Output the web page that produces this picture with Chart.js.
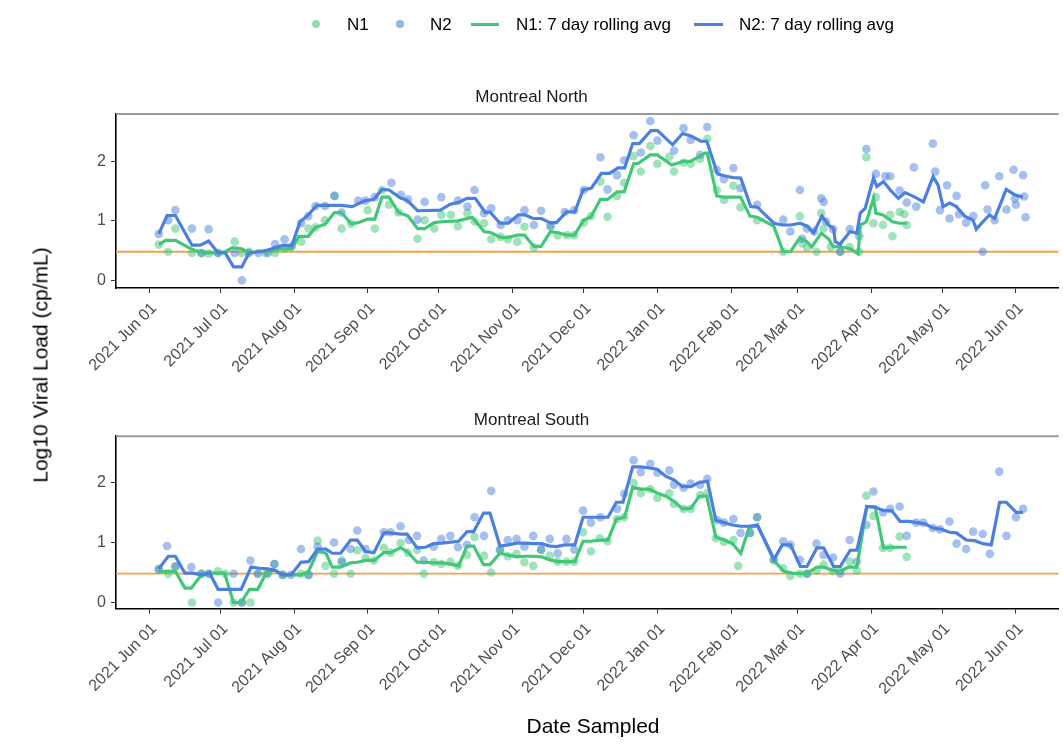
<!DOCTYPE html>
<html>
<head>
<meta charset="utf-8">
<title>Log10 Viral Load - Montreal North / South</title>
<script src="https://cdn.jsdelivr.net/npm/chart.js@4.4.1/dist/chart.umd.min.js"></script>
<style>
    body { margin: 0; background: #fff; font-family: "Liberation Sans", Arial, sans-serif; }
    #wrap { position: relative; width: 1063px; height: 754px; overflow: hidden; }
    #wrap canvas { position: absolute; left: 0; top: 0; }
    .txt { position: absolute; white-space: nowrap; color: #000; line-height: 1; transform: translateY(-50%); }
    .dot { position: absolute; width: 8px; height: 8px; border-radius: 50%; }
    .key { position: absolute; height: 3px; }
</style>
</head>
<body>
<div id="wrap">
    <canvas id="northChart" width="1063" height="754"></canvas>
    <canvas id="southChart" width="1063" height="754"></canvas>

    <!-- legend -->
    <div class="dot" style="left:311.5px; top:19.5px; background:rgba(64,200,120,0.6);"></div>
    <div class="txt" style="left:347px; top:24px; font-size:17px;">N1</div>
    <div class="dot" style="left:395.5px; top:19.5px; background:rgba(75,127,224,0.6);"></div>
    <div class="txt" style="left:430px; top:24px; font-size:17px;">N2</div>
    <div class="key" style="left:471px; top:22.5px; width:28px; background:#40C878;"></div>
    <div class="txt" style="left:516px; top:24px; font-size:17px;">N1: 7 day rolling avg</div>
    <div class="key" style="left:694px; top:22.5px; width:29px; background:#4B7FE0;"></div>
    <div class="txt" style="left:739px; top:24px; font-size:17px;">N2: 7 day rolling avg</div>

    <!-- shared axis titles -->
    <div class="txt" style="left:40px; top:365px; font-size:21px; transform: translate(-50%, -50%) rotate(-90deg);">Log10 Viral Load (cp/mL)</div>
    <div class="txt" style="left:593px; top:725px; font-size:21px; transform: translate(-50%, -50%);">Date Sampled</div>
</div>

<script>
// x values are days since 2021-06-01
const monthTicks = [0, 30, 61, 92, 122, 153, 183, 214, 245, 273, 304, 334, 365];
const monthLabels = ['2021 Jun 01', '2021 Jul 01', '2021 Aug 01', '2021 Sep 01', '2021 Oct 01', '2021 Nov 01',
    '2021 Dec 01', '2022 Jan 01', '2022 Feb 01', '2022 Mar 01', '2022 Apr 01', '2022 May 01', '2022 Jun 01'];
const yTicks = [0, 1, 2];
const threshold = 0.48;

// Montreal North
const northN1 = [[4,0.60],[8,0.48],[11,0.87],[18,0.46],[22,0.46],[25,0.45],[29,0.46],[36,0.65],[39,0.46],[42,0.48],
    [49,0.46],[53,0.46],[57,0.53],[64,0.65],[67,0.87],[70,0.89],[74,1.01],[78,1.42],[81,0.87],[85,0.95],[92,1.18],
    [95,0.87],[98,1.52],[101,1.27],[105,1.14],[113,0.70],[116,1.01],[120,0.87],[123,1.10],[127,1.10],[130,0.91],
    [134,1.13],[137,0.99],[141,0.96],[144,0.69],[148,0.73],[151,0.69],[155,0.65],[158,0.90],[162,0.55],[169,0.93],
    [172,0.76],[176,0.76],[179,0.76],[183,0.97],[186,1.08],[190,1.66],[193,1.07],[197,1.42],[200,1.64],[204,2.09],
    [207,1.83],[211,2.26],[214,1.96],[219,2.08],[221,1.83],[225,1.98],[228,1.96],[232,2.04],[235,2.38],[239,1.52],
    [242,1.35],[246,1.59],[249,1.23],[256,1.01],[267,0.48],[274,1.08],[275,0.62],[277,0.55],[281,0.48],[283,1.13],
    [284,0.87],[287,0.56],[291,0.48],[295,0.56],[299,0.48],[302,2.07],[305,0.96],[306,1.40],[309,0.93],[312,1.10],
    [313,0.74],[316,1.15],[318,1.11],[319,0.93]];
const northN2 = [[4,0.78],[8,1.01],[11,1.18],[18,0.87],[22,0.46],[25,0.86],[29,0.46],[36,0.46],[39,0.0],[42,0.46],
    [46,0.46],[50,0.46],[53,0.61],[57,0.69],[60,0.57],[64,0.96],[67,1.08],[70,1.25],[74,1.25],[78,1.42],[81,1.14],
    [88,1.34],[91,1.34],[95,1.40],[102,1.64],[106,1.44],[109,1.36],[113,1.02],[116,1.32],[123,1.40],[130,1.34],
    [134,1.24],[137,1.52],[141,1.13],[144,1.21],[148,0.93],[151,1.01],[155,1.01],[158,1.18],[162,0.93],[165,1.17],
    [169,0.90],[175,1.15],[179,1.18],[183,1.52],[190,2.07],[193,1.53],[197,1.77],[200,2.02],[204,2.44],[207,2.15],
    [211,2.68],[214,2.35],[221,2.18],[225,2.56],[228,2.36],[232,2.11],[235,2.58],[239,1.86],[242,1.70],[246,1.89],
    [249,1.55],[256,1.27],[267,1.02],[270,0.82],[274,1.52],[275,0.70],[277,0.87],[280,0.82],[283,1.38],[284,1.32],
    [285,0.99],[288,0.86],[291,0.48],[295,0.86],[299,0.74],[302,2.21],[306,1.79],[310,1.75],[312,1.75],[316,1.51],
    [319,1.31],[322,1.90],[323,1.24],[330,2.30],[331,1.83],[333,1.18],[336,1.60],[337,1.04],[340,1.42],[341,1.11],
    [344,0.97],[347,1.08],[351,0.48],[352,1.60],[353,1.19],[356,1.01],[358,1.75],[361,1.19],[364,1.86],[364.5,1.37],
    [365,1.27],[368,1.77],[368.5,1.41],[369,1.06]];
const northN1Avg = [[4,0.60],[7,0.67],[11,0.67],[18,0.52],[21,0.48],[25,0.46],[29,0.46],[32,0.48],[35,0.55],[39,0.53],
    [42,0.46],[46,0.48],[50,0.48],[53,0.51],[56,0.53],[60,0.53],[63,0.74],[67,0.74],[70,0.89],[74,0.94],[78,1.14],
    [81,1.14],[85,0.95],[88,0.97],[92,1.03],[95,1.03],[98,1.40],[101,1.40],[105,1.14],[109,1.08],[113,0.87],[116,0.87],
    [120,0.97],[123,0.985],[130,1.00],[136,1.06],[141,0.82],[144,0.80],[148,0.72],[151,0.72],[155,0.76],[158,0.76],
    [162,0.57],[165,0.57],[169,0.82],[172,0.80],[176,0.76],[179,0.76],[183,1.01],[186,1.07],[190,1.36],[193,1.36],
    [197,1.49],[200,1.49],[204,1.96],[206,1.97],[211,2.11],[214,2.11],[220,1.94],[225,2.00],[228,2.00],[234,2.14],
    [235,2.14],[239,1.42],[242,1.40],[249,1.40],[253,1.08],[256,1.06],[263,0.91],[267,0.48],[270,0.48],[274,0.715],
    [277,0.65],[279,0.56],[283,0.79],[286,0.70],[288,0.57],[291,0.56],[295,0.535],[298.5,0.45],[299.5,0.93],
    [302,0.985],[305,1.38],[306,1.13],[309,1.10],[313,0.985],[316,0.96],[319,0.96]];
const northN2Avg = [[4,0.78],[7.5,1.09],[11,1.09],[18,0.59],[21.5,0.59],[25,0.66],[29,0.46],[32,0.46],[35.5,0.225],
    [39,0.225],[42,0.46],[46,0.48],[50,0.51],[53,0.55],[56.5,0.59],[60,0.58],[63.5,0.985],[67,1.10],[70.5,1.26],
    [74,1.26],[81,1.26],[85.5,1.24],[91,1.34],[94.5,1.36],[98,1.53],[101,1.52],[106,1.38],[108.5,1.35],[113,1.17],
    [122.6,1.18],[126.8,1.28],[130.3,1.31],[133.8,1.38],[137.3,1.38],[141.5,1.14],[143.5,1.15],[147.7,0.96],
    [151.2,0.96],[155.4,1.10],[158.2,1.10],[161.7,1.04],[165.2,1.04],[168.7,0.97],[171.5,0.97],[175.7,1.15],
    [179.2,1.15],[182.7,1.52],[186.2,1.55],[190.4,1.80],[193.9,1.80],[197.4,1.89],[200.2,1.89],[203.6,2.30],
    [206.4,2.30],[211.3,2.52],[214.1,2.52],[220.4,2.28],[224.6,2.47],[228.1,2.43],[232.3,2.34],[234.8,2.34],
    [239.3,1.79],[242.1,1.76],[245.6,1.73],[249.1,1.72],[253.3,1.24],[256.1,1.23],[263.1,0.96],[266.6,0.93],
    [270.1,0.93],[274.2,0.96],[277,0.91],[279.8,0.80],[283.3,1.08],[286.1,0.93],[288.2,0.87],[288.9,0.65],[291,0.60],
    [291.7,0.65],[295.2,0.82],[298,0.79],[299.4,1.13],[301.5,1.21],[305,1.72],[306.4,1.58],[309.2,1.66],[312.7,1.49],
    [315.5,1.38],[318.3,1.475],[322.5,1.40],[326,1.32],[330.1,1.745],[332.2,1.60],[334.3,1.24],[337.1,1.30],
    [339.9,1.24],[343.4,1.08],[346.9,1.01],[348.3,0.86],[351.1,0.985],[353.9,1.10],[356,1.04],[360.9,1.53],
    [364.4,1.44],[367.9,1.40]];

// Montreal South
const southN1 = [[4,0.54],[8,0.48],[11,0.60],[18,0.0],[22,0.48],[25,0.48],[29,0.52],[32,0.48],[35.5,0.0],[39,0.0],
    [42.6,0.0],[45.7,0.48],[49.2,0.48],[52.7,0.64],[56.2,0.46],[63.9,0.48],[67.1,0.46],[70.9,1.03],[74.2,0.61],
    [77.8,0.48],[81.1,0.70],[84.8,0.48],[87.6,0.87],[91.1,0.74],[94.6,0.70],[98.8,0.91],[101.6,0.83],[105.8,0.99],
    [108.9,0.83],[112.8,0.88],[115.6,0.48],[119.8,0.67],[123,0.64],[126.8,0.68],[130,0.61],[133.8,0.79],[137,1.09],
    [141,0.78],[144,0.50],[147.7,0.87],[151,0.77],[154.7,0.81],[158,0.67],[161.7,0.61],[165,0.88],[168.7,0.78],
    [172,0.68],[175.7,0.68],[179,0.68],[182.7,1.17],[186,0.85],[189.7,1.07],[193,1.02],[197,1.39],[200,1.42],
    [204,1.99],[207,1.82],[211,1.89],[214,1.74],[219,1.82],[221,1.64],[225,1.56],[228,1.56],[232,1.79],[235,1.82],
    [238.6,1.07],[242,1.01],[246,1.04],[248,0.61],[253,1.16],[256,1.42],[263,0.70],[267,0.57],[270,0.44],[274,0.48],
    [277,0.48],[281,0.53],[284,0.63],[288,0.52],[291,0.52],[295,0.68],[298,0.53],[302,1.78],[305,1.44],[309,0.91],
    [312,0.91],[316,1.10],[319,0.76]];
const southN2 = [[4,0.56],[7.5,0.94],[11,0.60],[17.7,0.59],[22,0.48],[25.2,0.48],[29,0.0],[35.5,0.48],[39.1,0.0],
    [42.6,0.70],[45.7,0.48],[49.9,0.48],[52.7,0.64],[56.2,0.46],[59.7,0.46],[63.9,0.89],[67.1,0.46],[70.9,0.93],
    [77.8,1.00],[81.1,0.67],[84.8,0.89],[87.6,1.20],[91.1,0.89],[98.8,1.17],[101.6,1.17],[105.8,1.27],[109.3,1.04],
    [112.8,1.11],[115.6,0.70],[119.8,0.93],[123,1.06],[126.8,1.11],[130,0.92],[133.8,0.96],[137,1.42],[141,1.11],
    [144,1.86],[147.7,0.88],[151,1.04],[154.7,1.06],[158,0.93],[161.7,1.11],[165,0.88],[168.7,1.06],[172,0.82],
    [175.7,1.06],[179,0.88],[182.7,1.53],[186,1.33],[190,1.42],[197,1.56],[200,1.81],[204,2.37],[207,2.17],[211,2.31],
    [214,2.16],[219,2.20],[221,1.96],[225,1.91],[228,1.98],[232,1.96],[235,2.06],[239.3,1.37],[242,1.33],[246,1.39],
    [249,1.16],[253,1.16],[256,1.42],[263,0.72],[267,1.02],[270,0.96],[274,0.71],[277,0.48],[281,0.98],[284,0.79],
    [288,0.75],[291,0.48],[295,1.04],[298,0.68],[302,1.29],[305,1.85],[309,1.50],[312,1.56],[316,1.60],[319,1.11],
    [323,1.33],[326,1.33],[330,1.24],[333,1.22],[337,1.35],[340,0.98],[344,0.89],[347,1.18],[351,1.14],[354,0.81],
    [358,2.18],[361,1.11],[365,1.42],[368,1.56]];
const southN1Avg = [[4,0.52],[8,0.52],[11,0.52],[15,0.24],[17.7,0.24],[22,0.46],[25.4,0.49],[29,0.49],[31.7,0.49],
    [35.5,0.0],[38.7,0.0],[42.2,0.22],[45.7,0.22],[49.2,0.49],[52.7,0.54],[56.2,0.46],[63.9,0.46],[67.1,0.52],
    [70.9,0.85],[74.4,0.82],[77.1,0.59],[80.6,0.59],[84.8,0.66],[87.6,0.67],[91.1,0.70],[94.6,0.70],[98.8,0.83],
    [101.6,0.83],[105.8,0.91],[108.6,0.85],[112.8,0.67],[116.3,0.67],[119.8,0.66],[123.3,0.66],[126.8,0.64],
    [130.3,0.61],[133.8,0.94],[136.6,0.94],[140.8,0.63],[143.5,0.63],[147.7,0.82],[151.2,0.79],[154.7,0.76],
    [158.2,0.77],[161.7,0.77],[165.2,0.76],[168.7,0.71],[172.2,0.68],[179.2,0.68],[182.7,1.02],[186.2,1.02],
    [189.7,1.04],[193.2,1.04],[196.7,1.39],[200.2,1.42],[203.6,1.92],[207.1,1.89],[210.6,1.89],[214.1,1.82],
    [217.6,1.77],[221.1,1.68],[224.6,1.56],[228.1,1.57],[231.6,1.77],[234.8,1.77],[238.6,1.09],[242.1,1.04],
    [245.6,0.98],[249.1,0.82],[252.6,1.24],[256.1,1.29],[263.1,0.70],[267.3,0.52],[270.8,0.49],[274.2,0.48],
    [277,0.49],[281.2,0.59],[284,0.59],[287.5,0.54],[291,0.52],[294.5,0.59],[298,0.59],[302.2,1.60],[305.7,1.59],
    [309.2,0.91],[312.7,0.92],[319,0.92]];
const southN2Avg = [[4,0.56],[8,0.77],[11,0.77],[15,0.49],[18.4,0.49],[22,0.46],[25.4,0.49],[29,0.22],[31.7,0.22],
    [35.5,0.22],[38.7,0.22],[42.9,0.59],[46.4,0.57],[49.9,0.56],[52.7,0.54],[56.2,0.46],[59.7,0.46],[63.9,0.67],
    [67.1,0.68],[70.9,0.89],[74.4,0.89],[77.1,0.82],[80.6,0.82],[84.8,1.04],[87.6,1.04],[91.1,0.85],[94.6,0.83],
    [98.8,1.16],[101.6,1.16],[105.8,1.14],[108.6,1.14],[112.8,0.91],[116.3,0.92],[119.8,0.98],[123.3,0.99],
    [130.3,1.02],[133.8,1.18],[136.6,1.18],[140.8,1.49],[143.5,1.49],[147.7,0.94],[151.2,0.96],[154.7,0.99],
    [158.2,0.99],[161.7,0.98],[165.2,0.98],[168.7,0.94],[171.5,0.93],[175,0.96],[179.2,0.96],[182.7,1.42],
    [193.2,1.42],[196.7,1.67],[199.5,1.67],[203.6,2.26],[207.1,2.26],[210.6,2.24],[213.9,2.22],[217.6,2.10],
    [221.1,2.04],[224.6,1.93],[228.1,1.93],[231.6,2.00],[235.1,2.02],[238.6,1.37],[242.1,1.33],[245.6,1.29],
    [249.1,1.27],[252.6,1.27],[256.1,1.29],[263.1,0.72],[266.6,0.96],[270.1,0.96],[274.2,0.60],[277,0.60],
    [281.2,0.91],[284,0.91],[288.2,0.60],[291,0.60],[295.2,0.87],[298,0.87],[302.2,1.60],[305.7,1.59],[309.2,1.53],
    [312.7,1.53],[316.2,1.35],[319.7,1.35],[323.2,1.33],[326.7,1.31],[330.1,1.24],[333.6,1.22],[337.1,1.17],
    [339.9,1.16],[344.1,1.04],[347.6,1.03],[351.1,0.98],[354.6,0.96],[358.1,1.67],[360.9,1.67],[365.1,1.50],
    [367.9,1.50]];

const GREEN = '#40C878';
const BLUE = '#4B7FE0';
const GREEN_PT = 'rgba(64, 200, 120, 0.5)';
const BLUE_PT = 'rgba(75, 127, 224, 0.5)';
const ORANGE = '#F4A04F';
const FONT = '"Liberation Sans", Arial, sans-serif';
const X_MIN = -14;
const X_MAX = 383;

function toXY(pairs) {
    return pairs.map(p => ({ x: p[0], y: p[1] }));
}

// gray line along the top edge of the panel (ggplot strip edge)
const panelTopLine = {
    id: 'panelTopLine',
    afterDraw(chart) {
        const { ctx, chartArea } = chart;
        ctx.save();
        ctx.strokeStyle = '#9a9a9a';
        ctx.lineWidth = 2;
        ctx.beginPath();
        ctx.moveTo(chartArea.left, chartArea.top);
        ctx.lineTo(chartArea.right, chartArea.top);
        ctx.stroke();
        ctx.restore();
    }
};

function drawPanel(canvasId, title, n1, n2, n1Avg, n2Avg, yMin, yMax, padTop, padBottom) {
    const ctx = document.getElementById(canvasId).getContext('2d');
    return new Chart(ctx, {
        type: 'scatter',
        data: {
            datasets: [
                {
                    type: 'line',
                    label: 'LOD',
                    data: [{ x: X_MIN, y: threshold }, { x: X_MAX, y: threshold }],
                    borderColor: ORANGE,
                    borderWidth: 1.8,
                    pointRadius: 0,
                    order: 5
                },
                {
                    label: 'N1',
                    data: toXY(n1),
                    backgroundColor: GREEN_PT,
                    borderWidth: 0,
                    pointRadius: 4.3,
                    order: 4
                },
                {
                    label: 'N2',
                    data: toXY(n2),
                    backgroundColor: BLUE_PT,
                    borderWidth: 0,
                    pointRadius: 4.3,
                    order: 3
                },
                {
                    type: 'line',
                    label: 'N1: 7 day rolling avg',
                    data: toXY(n1Avg),
                    borderColor: GREEN,
                    borderWidth: 3.2,
                    pointRadius: 0,
                    tension: 0,
                    order: 1
                },
                {
                    type: 'line',
                    label: 'N2: 7 day rolling avg',
                    data: toXY(n2Avg),
                    borderColor: BLUE,
                    borderWidth: 3.2,
                    pointRadius: 0,
                    tension: 0,
                    order: 0
                }
            ]
        },
        options: {
            responsive: false,
            animation: false,
            layout: {
                padding: { top: padTop, right: 0, bottom: padBottom, left: 0 }
            },
            plugins: {
                legend: { display: false },
                tooltip: { enabled: false },
                title: {
                    display: true,
                    text: title,
                    color: '#1a1a1a',
                    font: { family: FONT, size: 17, weight: 'normal' },
                    padding: { top: 0, bottom: 6 }
                }
            },
            scales: {
                x: {
                    type: 'linear',
                    min: X_MIN,
                    max: X_MAX,
                    afterBuildTicks: scale => {
                        scale.ticks = monthTicks.map(v => ({ value: v }));
                    },
                    afterFit: scale => {
                        scale.height = 95;
                    },
                    ticks: {
                        autoSkip: false,
                        minRotation: 45,
                        maxRotation: 45,
                        padding: 6,
                        labelOffset: 5,
                        color: '#4d4d4d',
                        font: { family: FONT, size: 16 },
                        callback: (value, index) => monthLabels[index]
                    },
                    grid: {
                        drawOnChartArea: false,
                        tickLength: 5,
                        color: '#333'
                    },
                    border: { color: '#000', width: 1.6 }
                },
                y: {
                    min: yMin,
                    max: yMax,
                    afterBuildTicks: scale => {
                        scale.ticks = yTicks.map(v => ({ value: v }));
                    },
                    afterFit: scale => {
                        scale.width = 116;
                    },
                    ticks: {
                        padding: 5,
                        color: '#4d4d4d',
                        font: { family: FONT, size: 16 }
                    },
                    grid: {
                        drawOnChartArea: false,
                        tickLength: 5,
                        color: '#333'
                    },
                    border: { color: '#000', width: 1.6 }
                }
            }
        },
        plugins: [panelTopLine]
    });
}

document.addEventListener('DOMContentLoaded', function () {
    drawPanel('northChart', 'Montreal North', northN1, northN2, northN1Avg, northN2Avg, -0.13, 2.8, 87.5, 371);
    drawPanel('southChart', 'Montreal South', southN1, southN2, southN1Avg, southN2Avg, -0.1, 2.77, 409.8, 50.5);
});
</script>
</body>
</html>
